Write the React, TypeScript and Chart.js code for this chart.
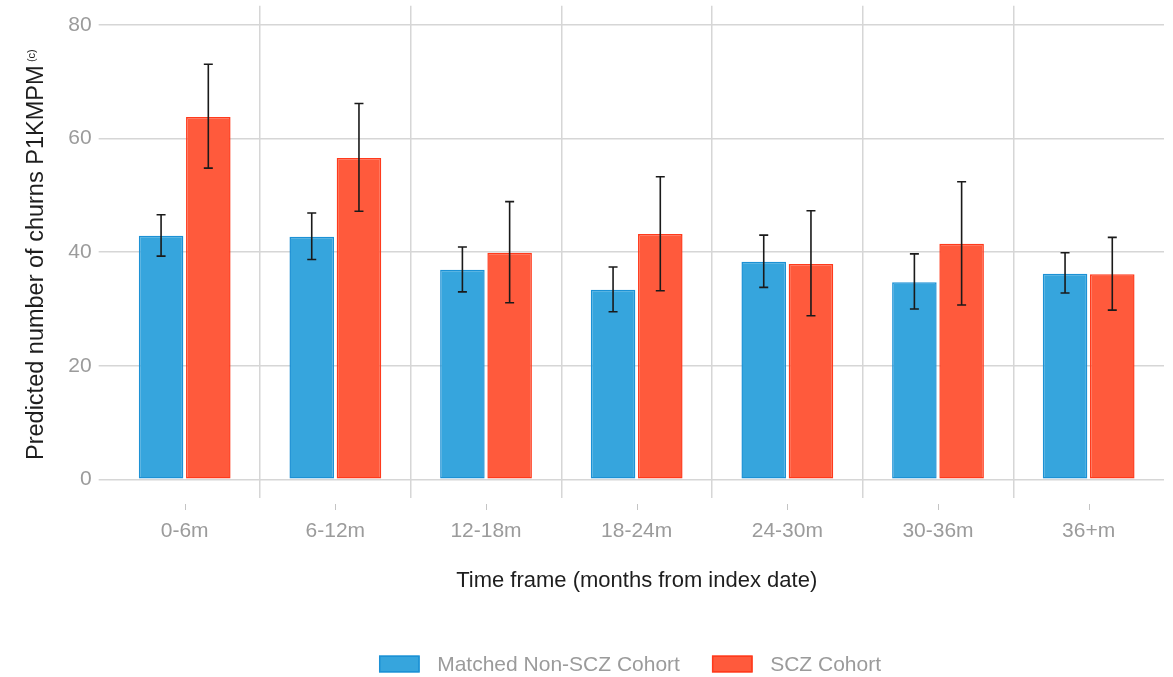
import React, { useEffect, useRef } from 'react';
import { Chart, registerables } from 'chart.js';

Chart.register(...registerables);

// ---- Data ----
const categories = ['0-6m', '6-12m', '12-18m', '18-24m', '24-30m', '30-36m', '36+m'];
const seriesNames = ['Matched Non-SCZ Cohort', 'SCZ Cohort'];
const nonSczMeans = [42.9, 42.7, 36.9, 33.4, 38.3, 34.7, 36.2];
const nonSczLower = [39.3, 38.7, 33.0, 29.5, 33.8, 30.0, 32.8];
const nonSczUpper = [46.6, 46.9, 40.9, 37.4, 43.0, 39.7, 39.9];
const sczMeans = [63.8, 56.6, 39.9, 43.2, 37.9, 41.5, 36.1];
const sczLower = [54.8, 47.2, 31.1, 33.2, 28.8, 30.7, 29.8];
const sczUpper = [73.1, 66.2, 48.9, 53.3, 47.3, 52.4, 42.6];
const yTickValues = [0, 20, 40, 60, 80];
const xTitle = 'Time frame (months from index date)';
const yTitle = 'Predicted number of churns P1KMPM';
const yTitleSup = '(c)';

// ---- Styles ----
const FONT = '"Liberation Sans", Arial, Helvetica, sans-serif';
const BLUE = '#36A5DD';
const BLUE_BORDER = '#1C91D5';
const RED = '#FF5A3C';
const RED_BORDER = '#FF3A1C';
const GRID = '#D6D6D6';
const TICK_TEXT = '#9B9B9B';
const TITLE_TEXT = '#1E1E1E';

const errorBarPlugin = {
  id: 'errorBars',
  afterDatasetsDraw(chart: any) {
    const ctx = chart.ctx;
    const yScale = chart.scales.y;
    ctx.save();
    ctx.strokeStyle = '#1A1A1A';
    ctx.lineWidth = 1.6;
    chart.data.datasets.forEach((ds: any, i: number) => {
      const meta = chart.getDatasetMeta(i);
      meta.data.forEach((bar: any, j: number) => {
        const x = bar.x;
        const yl = yScale.getPixelForValue(ds.errorLow[j]);
        const yh = yScale.getPixelForValue(ds.errorHigh[j]);
        const cap = 4.5;
        ctx.beginPath();
        ctx.moveTo(x, yl);
        ctx.lineTo(x, yh);
        ctx.moveTo(x - cap, yh);
        ctx.lineTo(x + cap, yh);
        ctx.moveTo(x - cap, yl);
        ctx.lineTo(x + cap, yl);
        ctx.stroke();
      });
    });
    ctx.restore();
  },
};

const decorPlugin = {
  id: 'decor',
  afterDraw(chart: any) {
    const ctx = chart.ctx;
    const area = chart.chartArea;
    const xScale = chart.scales.x;
    ctx.save();
    // small category tick marks
    ctx.strokeStyle = '#C4C4C4';
    ctx.lineWidth = 1;
    xScale.ticks.forEach((_: any, i: number) => {
      const x = Math.round(xScale.getPixelForTick(i)) + 0.5;
      ctx.beginPath();
      ctx.moveTo(x, area.bottom + 6);
      ctx.lineTo(x, area.bottom + 12);
      ctx.stroke();
    });

    // x axis title
    ctx.fillStyle = TITLE_TEXT;
    ctx.font = `22px ${FONT}`;
    ctx.textAlign = 'center';
    ctx.textBaseline = 'middle';
    ctx.fillText(xTitle, (area.left + area.right) / 2, 581);

    // y axis title (rotated) with superscript
    ctx.save();
    ctx.translate(43.3, 460);
    ctx.rotate(-Math.PI / 2);
    ctx.font = `23.5px ${FONT}`;
    ctx.textAlign = 'left';
    ctx.textBaseline = 'alphabetic';
    ctx.fillText(yTitle, 0, 0);
    const w = ctx.measureText(yTitle).width;
    ctx.font = `11px ${FONT}`;
    ctx.fillText(yTitleSup, w + 3.5, -8);
    ctx.restore();

    // legend
    const colors = [
      [BLUE, BLUE_BORDER],
      [RED, RED_BORDER],
    ];
    ctx.font = `21px ${FONT}`;
    const boxW = 40.7;
    const boxH = 17;
    const gapText = 17.5;
    const gapItem = 32;
    const widths = seriesNames.map((n) => ctx.measureText(n).width);
    const total = widths.reduce((s, tw) => s + boxW + gapText + tw, 0) + gapItem * (seriesNames.length - 1);
    let x = 630 - total / 2;
    const cy = 664;
    seriesNames.forEach((name, i) => {
      ctx.fillStyle = colors[i][0];
      ctx.fillRect(x, cy - boxH / 2, boxW, boxH);
      ctx.strokeStyle = colors[i][1];
      ctx.lineWidth = 1.5;
      ctx.strokeRect(x + 0.75, cy - boxH / 2 + 0.75, boxW - 1.5, boxH - 1.5);
      x += boxW + gapText;
      ctx.fillStyle = TICK_TEXT;
      ctx.textAlign = 'left';
      ctx.textBaseline = 'middle';
      ctx.fillText(name, x, cy + 1);
      x += widths[i] + gapItem;
    });
    ctx.restore();
  },
};

export default function App() {
  const canvasRef = useRef<HTMLCanvasElement | null>(null);

  useEffect(() => {
    const canvas = canvasRef.current;
    if (!canvas) return;
    const chart = new Chart(canvas, {
      type: 'bar',
      data: {
        labels: categories,
        datasets: [
          {
            label: seriesNames[0],
            data: nonSczMeans,
            backgroundColor: BLUE,
            borderColor: BLUE_BORDER,
            borderWidth: 1.5,
            borderSkipped: false,
            errorLow: nonSczLower,
            errorHigh: nonSczUpper,
          } as any,
          {
            label: seriesNames[1],
            data: sczMeans,
            backgroundColor: RED,
            borderColor: RED_BORDER,
            borderWidth: 1.5,
            borderSkipped: false,
            errorLow: sczLower,
            errorHigh: sczUpper,
          } as any,
        ],
      },
      options: {
        responsive: false,
        animation: false,
        devicePixelRatio: 1,
        categoryPercentage: 0.627,
        barPercentage: 0.943,
        layout: { padding: { left: 61.3, right: 9, top: 5.8, bottom: 111.8 } },
        plugins: {
          legend: { display: false },
          tooltip: { enabled: false },
          title: { display: false },
        },
        scales: {
          x: {
            type: 'category',
            offset: true,
            grid: {
              offset: true,
              color: (c: any) =>
                c.type !== 'tick' || c.index === 0 || c.index >= categories.length
                  ? 'rgba(0,0,0,0)'
                  : GRID,
              lineWidth: 1.5,
              drawTicks: false,
            },
            border: { display: false },
            ticks: {
              color: TICK_TEXT,
              font: { family: FONT, size: 21 },
              padding: 21,
              maxRotation: 0,
            },
          },
          y: {
            min: -3.3,
            max: 83.4,
            grid: {
              color: GRID,
              lineWidth: 1.5,
              drawTicks: true,
              tickLength: 10.7,
            },
            border: { display: false },
            ticks: {
              color: TICK_TEXT,
              font: { family: FONT, size: 21 },
              padding: 7,
            },
            afterBuildTicks(scale: any) {
              scale.ticks = yTickValues.map((v) => ({ value: v }));
            },
            afterFit(scale: any) {
              scale.paddingTop = 0;
              scale.paddingBottom = 0;
            },
          },
        },
      } as any,
      plugins: [errorBarPlugin, decorPlugin],
    });
    return () => chart.destroy();
  }, []);

  return (
    <div style={{ position: 'absolute', left: 0, top: 0, width: 1173, height: 677, background: '#fff' }}>
      <canvas ref={canvasRef} width={1173} height={677} style={{ display: 'block' }} />
    </div>
  );
}
